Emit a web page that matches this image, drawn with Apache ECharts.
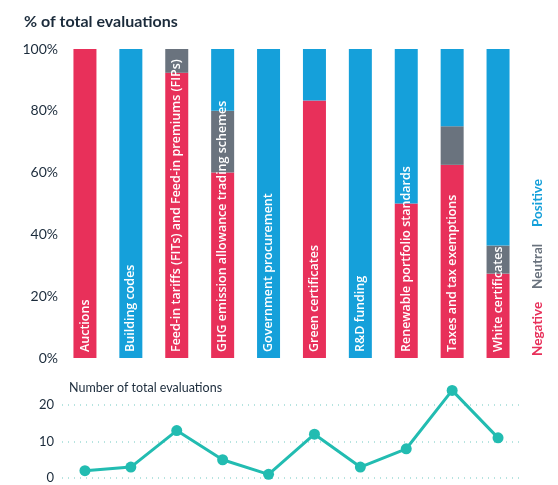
<!DOCTYPE html>
<html>
<head>
<meta charset="utf-8">
<script src="https://cdn.jsdelivr.net/npm/echarts@6/dist/echarts.min.js"></script>
<style>
  html, body { margin: 0; padding: 0; background: #fff; }
  #chart { width: 558px; height: 485px; }
</style>
</head>
<body>
<div id="chart"></div>
<script>
// categories
const categories = [
  'Auctions',
  'Building codes',
  'Feed-in tariffs (FITs) and Feed-in premiums (FIPs)',
  'GHG emission allowance trading schemes',
  'Government procurement',
  'Green certificates',
  'R&D funding',
  'Renewable portfolio standards',
  'Taxes and tax exemptions',
  'White certificates'
]

// share of evaluations, %
const negative = [100, 0, 92.3, 60, 0, 83.3, 0, 50, 62.5, 27.3]
const neutral = [0, 0, 7.7, 20, 0, 0, 0, 0, 12.5, 9.1]
const positive = [0, 100, 0, 20, 100, 16.7, 100, 50, 25, 63.6]

// number of total evaluations
const totals = [2, 3, 13, 5, 1, 12, 3, 8, 24, 11]

const pctTicks = [0, 20, 40, 60, 80, 100]
const countTicks = [0, 10, 20]

const RED = '#e8305a'
const GREY = '#6a737e'
const BLUE = '#15a0da'
const TEAL = '#22bcb1'
const INK = '#1b2b3b'
const FONT = 'Lato, "Noto Sans", sans-serif'
const LABEL_FONT = '"Open Sans", "Noto Sans", sans-serif'

const chart = echarts.init(document.getElementById('chart'))

const barSeries = (name, data, color) => ({
  name: name,
  type: 'bar',
  stack: 'share',
  barWidth: 23,
  data: data,
  itemStyle: { color: color },
  emphasis: { disabled: true }
})

const option = {
  animation: false,
  textStyle: { fontFamily: FONT },
  title: [{
    text: '% of total evaluations',
    left: 19,
    top: 9,
    textStyle: { fontSize: 16, fontWeight: 'bold', color: INK, fontFamily: FONT }
  }, {
    text: 'Number of total evaluations',
    left: 64,
    top: 376,
    textStyle: { fontSize: 12.5, fontWeight: 'normal', color: INK, fontFamily: FONT }
  }],
  grid: [
    { left: 62, right: 37, top: 49, bottom: 127 },
    { left: 62, right: 37, top: 405, bottom: 7 }
  ],
  xAxis: [{
    type: 'category',
    gridIndex: 0,
    data: categories,
    axisLine: { show: false },
    axisTick: { show: false },
    axisLabel: { show: false }
  }, {
    type: 'category',
    gridIndex: 1,
    data: categories,
    axisLine: { show: false },
    axisTick: { show: false },
    axisLabel: { show: false }
  }],
  yAxis: [{
    type: 'value',
    gridIndex: 0,
    min: pctTicks[0],
    max: pctTicks[pctTicks.length - 1],
    interval: 20,
    axisLine: { show: false },
    axisTick: { show: false },
    splitLine: { show: false },
    axisLabel: {
      formatter: '{value}%',
      color: INK,
      fontSize: 14,
      margin: 4,
      fontFamily: FONT
    }
  }, {
    type: 'value',
    gridIndex: 1,
    min: countTicks[0],
    max: countTicks[countTicks.length - 1],
    interval: 10,
    axisLine: { show: false },
    axisTick: { show: false },
    splitLine: {
      show: true,
      lineStyle: { color: '#9fdcd6', type: [1, 5], width: 1.5 }
    },
    axisLabel: {
      color: INK,
      fontSize: 13,
      margin: 8,
      fontFamily: FONT
    }
  }],
  series: [
    barSeries('Negative', negative, RED),
    barSeries('Neutral', neutral, GREY),
    barSeries('Positive', positive, BLUE),
    {
      // category names written inside the bars
      name: 'labels',
      type: 'bar',
      barWidth: 23,
      barGap: '-100%',
      z: 5,
      silent: true,
      data: categories.map(() => 100),
      itemStyle: { color: 'rgba(0,0,0,0)' },
      label: {
        show: true,
        position: 'insideBottom',
        rotate: 90,
        align: 'left',
        verticalAlign: 'middle',
        distance: 6,
        color: '#fff',
        fontSize: 12.5,
        fontWeight: 600,
        fontFamily: LABEL_FONT,
        formatter: p => p.name
      }
    },
    {
      name: 'Number of total evaluations',
      type: 'line',
      xAxisIndex: 1,
      yAxisIndex: 1,
      data: totals,
      clip: false,
      symbol: 'circle',
      symbolSize: 11,
      lineStyle: { color: TEAL, width: 3 },
      itemStyle: { color: TEAL }
    }
  ],
  graphic: [{
    type: 'group',
    x: 538,
    y: 356,
    rotation: Math.PI / 2,
    children: [
      { type: 'text', x: 0, y: 0, style: { text: 'Negative', fill: RED, font: 'bold 13.5px ' + FONT, textVerticalAlign: 'middle' } },
      { type: 'text', x: 67, y: 0, style: { text: 'Neutral', fill: GREY, font: 'bold 13.5px ' + FONT, textVerticalAlign: 'middle' } },
      { type: 'text', x: 129, y: 0, style: { text: 'Positive', fill: BLUE, font: 'bold 13.5px ' + FONT, textVerticalAlign: 'middle' } }
    ]
  }]
}

chart.setOption(option)
</script>
</body>
</html>
